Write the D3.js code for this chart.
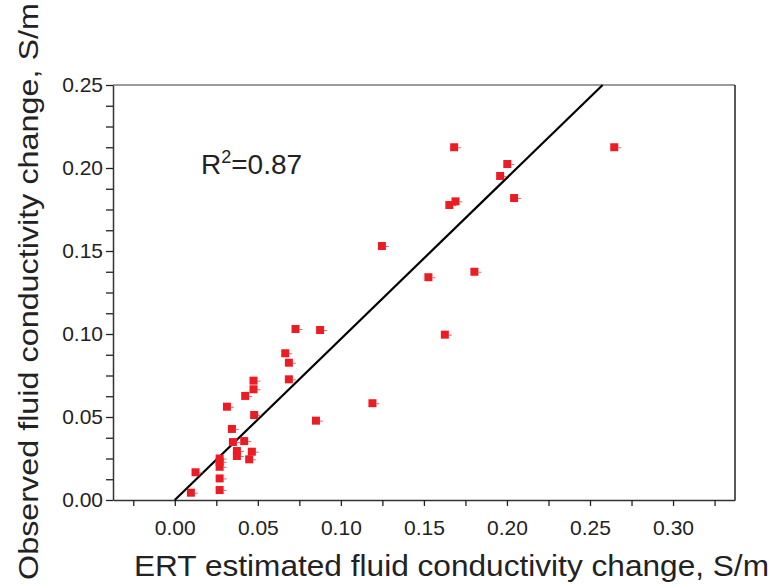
<!DOCTYPE html>
<html>
<head>
<meta charset="utf-8">
<script src="https://cdn.jsdelivr.net/npm/d3@7"></script>
<style>
  html, body { margin: 0; padding: 0; background: #fff; }
  svg { display: block; font-family: "Liberation Sans", Arial, sans-serif; }
</style>
</head>
<body>
<svg id="chart" width="771" height="585"></svg>
<script>
// ---- data ----
const ertEstimated = [
  0.0097, 0.0125, 0.027, 0.027, 0.027, 0.027, 0.027, 0.0314, 0.0344, 0.035,
  0.0374, 0.0374, 0.0418, 0.0424, 0.0448, 0.0464, 0.0474, 0.0474, 0.0478,
  0.0665, 0.0687, 0.0687, 0.0727, 0.0875, 0.085, 0.119, 0.1247,
  0.1682, 0.2002, 0.1959, 0.2043, 0.169, 0.1653, 0.2646, 0.1804, 0.1527, 0.1626
];
const observed = [
  0.0044, 0.0167, 0.006, 0.013, 0.020, 0.023, 0.025, 0.0562, 0.0428, 0.0349,
  0.0295, 0.0265, 0.0355, 0.0627, 0.0245, 0.0291, 0.0719, 0.0667, 0.0512,
  0.0884, 0.0827, 0.0727, 0.103, 0.1024, 0.0478, 0.0583, 0.153,
  0.2125, 0.2024, 0.1952, 0.1819, 0.1799, 0.1777, 0.2125, 0.1375, 0.1342, 0.0996
];
const fitSlope = 0.9705;
const fitIntercept = 0;
const fitXRange = [0, 0.2576];
const xTickValues = [0, 0.05, 0.10, 0.15, 0.20, 0.25, 0.30];
const yTickValues = [0, 0.05, 0.10, 0.15, 0.20, 0.25];
const xTitle = "ERT estimated fluid conductivity change, S/m";
const yTitle = "Observed fluid conductivity change, S/m";
const r2Text = "0.87";

(function () {
// ---- layout ----
const svg = d3.select("#chart");
const pL = 113, pR = 735, pT = 85, pB = 500;
const x = d3.scaleLinear().domain([-0.0372, 0.3373]).range([pL, pR]);
const y = d3.scaleLinear().domain([0, 0.25]).range([pB, pT]);

// frame: top (gray) and right (dark)
svg.append("line").attr("x1", pL).attr("x2", pR).attr("y1", pT).attr("y2", pT)
  .attr("stroke", "#7a7a7a").attr("stroke-width", 1.5);
svg.append("line").attr("x1", pR).attr("x2", pR).attr("y1", pT).attr("y2", pB)
  .attr("stroke", "#222").attr("stroke-width", 1.5);

// x axis
const xMinor = d3.range(-0.025, 0.3251, 0.025);
const xAxis = d3.axisBottom(x).tickValues(xMinor).tickSize(6).tickSizeOuter(0)
  .tickFormat(d => {
    const m = xTickValues.find(v => Math.abs(v - d) < 1e-6);
    return m === undefined ? "" : d3.format(".2f")(m);
  });
const gx = svg.append("g").attr("transform", `translate(0,${pB})`).call(xAxis);
gx.select(".domain").attr("stroke", "#333").attr("stroke-width", 1.5);
gx.selectAll(".tick line").attr("stroke", "#222").attr("stroke-width", 1.3);
gx.selectAll(".tick text").attr("font-size", 21).attr("fill", "#222")
  .attr("font-family", "'Liberation Sans', Arial, sans-serif").attr("dy", "0").attr("y", 35);

// y axis
const yMinor = d3.range(0, 0.2501, 0.0125);
const yAxis = d3.axisLeft(y).tickValues(yMinor).tickSize(7).tickSizeOuter(0)
  .tickFormat(d => {
    const m = yTickValues.find(v => Math.abs(v - d) < 1e-6);
    return m === undefined ? "" : d3.format(".2f")(m);
  });
const gy = svg.append("g").attr("transform", `translate(${pL},0)`).call(yAxis);
gy.select(".domain").attr("stroke", "#333").attr("stroke-width", 1.5);
gy.selectAll(".tick line").attr("stroke", "#222").attr("stroke-width", 1.3);
gy.selectAll(".tick text").attr("font-size", 21).attr("fill", "#222")
  .attr("font-family", "'Liberation Sans', Arial, sans-serif").attr("x", -10);

// regression line
svg.append("line")
  .attr("x1", x(fitXRange[0])).attr("y1", y(fitSlope * fitXRange[0] + fitIntercept))
  .attr("x2", x(fitXRange[1])).attr("y2", y(fitSlope * fitXRange[1] + fitIntercept))
  .attr("stroke", "#000").attr("stroke-width", 2.2);

// points
const pts = ertEstimated.map((v, i) => ({ x: v, y: observed[i] }));
const s = 8;
const pg = svg.append("g");
pg.selectAll("line.err").data(pts).enter().append("line")
  .attr("x1", d => x(d.x) + s / 2).attr("x2", d => x(d.x) + s / 2 + 3)
  .attr("y1", d => y(d.y) + 0.5).attr("y2", d => y(d.y) + 0.5)
  .attr("stroke", "#f0646a").attr("stroke-width", 1);
pg.selectAll("rect").data(pts).enter().append("rect")
  .attr("x", d => x(d.x) - s / 2).attr("y", d => y(d.y) - s / 2)
  .attr("width", s).attr("height", s).attr("fill", "#ec1c24");

// R^2 label
const r2 = svg.append("text").attr("x", 201).attr("y", 174)
  .attr("font-size", 28).attr("fill", "#222");
r2.append("tspan").text("R");
r2.append("tspan").attr("font-size", 18).attr("dy", -11).text("2");
r2.append("tspan").attr("dy", 11).text("=" + r2Text);

// axis titles
svg.append("text").attr("x", 134).attr("y", 576)
  .attr("font-size", 29.5).attr("fill", "#222")
  .attr("textLength", 635).attr("lengthAdjust", "spacingAndGlyphs")
  .text(xTitle);
svg.append("text").attr("transform", "translate(38,580) rotate(-90)")
  .attr("x", 0).attr("y", 0)
  .attr("font-size", 28).attr("fill", "#222")
  .attr("textLength", 577).attr("lengthAdjust", "spacingAndGlyphs")
  .text(yTitle);
})();
</script>
</body>
</html>
